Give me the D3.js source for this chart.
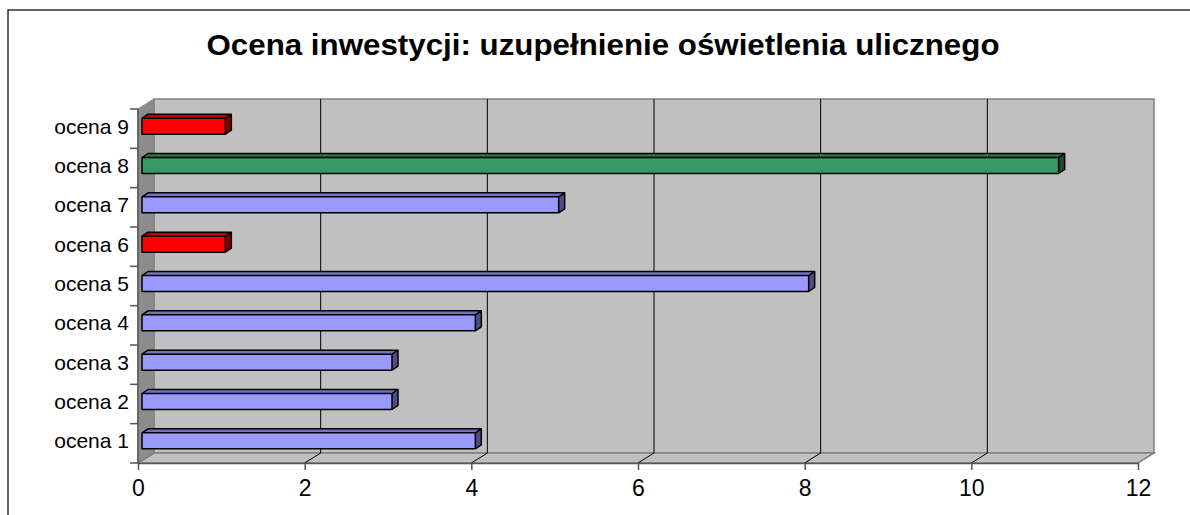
<!DOCTYPE html>
<html>
<head>
<meta charset="utf-8">
<script src="https://cdn.jsdelivr.net/npm/d3@7"></script>
<style>
  body { margin: 0; background: #fff; }
  svg { display: block; font-family: "Liberation Sans", Arial, sans-serif; }
</style>
</head>
<body>
<svg id="chart" width="1190" height="515"></svg>
<script>
// data
let categories = ["ocena 1", "ocena 2", "ocena 3", "ocena 4", "ocena 5", "ocena 6", "ocena 7", "ocena 8", "ocena 9"];
let values = [4, 3, 3, 4, 8, 1, 5, 11, 1];
let barColors = ["blue", "blue", "blue", "blue", "blue", "red", "blue", "green", "red"];
let xTicks = [0, 2, 4, 6, 8, 10, 12];
let title = "Ocena inwestycji: uzupełnienie oświetlenia ulicznego";

// shades: front, top, side
let palette = {
  blue: ["#9999ff", "#7373bf", "#4d4d80"],
  red: ["#ff0000", "#bf0000", "#800000"],
  green: ["#339966", "#267350", "#1a4d33"],
};

let svg = d3.select("#chart");

// plot geometry (front plane) and 3d depth of the walls
let plotL = 138, plotR = 1138, plotT = 109, plotB = 463;
let depthX = 16, depthY = -10;

let x = d3.scaleLinear().domain([0, 12]).range([plotL, plotR]);
let y = d3
  .scaleBand()
  .domain(categories.slice().reverse())
  .range([plotT, plotB]);

// outer frame (cropped at right/bottom)
svg.append("path")
  .attr("d", "M8,515 L8,10 L1190,10")
  .attr("fill", "none")
  .attr("stroke", "#333")
  .attr("stroke-width", 1.5);

// title
svg.append("text")
  .attr("x", 603)
  .attr("y", 55)
  .attr("text-anchor", "middle")
  .attr("font-size", "30px")
  .attr("font-weight", "bold")
  .attr("textLength", 793)
  .attr("lengthAdjust", "spacingAndGlyphs")
  .text(title);

// back wall
svg.append("rect")
  .attr("x", plotL + depthX)
  .attr("y", plotT + depthY)
  .attr("width", plotR - plotL)
  .attr("height", plotB - plotT)
  .attr("fill", "#c0c0c0")
  .attr("stroke", "#808080")
  .attr("stroke-width", 1.5);

// side wall
svg.append("path")
  .attr("d", `M${plotL},${plotT} L${plotL + depthX},${plotT + depthY} L${plotL + depthX},${plotB + depthY} L${plotL},${plotB} Z`)
  .attr("fill", "#8c8c8c")
  .attr("stroke", "#808080");

// floor
svg.append("path")
  .attr("d", `M${plotL},${plotB} L${plotL + depthX},${plotB + depthY} L${plotR + depthX},${plotB + depthY} L${plotR},${plotB} Z`)
  .attr("fill", "#c0c0c0")
  .attr("stroke", "#808080")
  .attr("stroke-width", 1.5);

// gridlines on back wall + floor
let inner = xTicks.filter((d) => d > 0 && d < 12);
svg.selectAll(".grid")
  .data(inner)
  .enter()
  .append("path")
  .attr("class", "grid")
  .attr("d", (d) => `M${x(d)},${plotB} L${x(d) + depthX},${plotB + depthY} L${x(d) + depthX},${plotT + depthY}`)
  .attr("fill", "none")
  .attr("stroke", "#000")
  .attr("stroke-width", 1);

// bars
let offX = 4, offY = -2.5, barH = 16, bdx = 6, bdy = -4;
let bars = svg.selectAll(".bar")
  .data(categories.map((c, i) => ({ cat: c, val: values[i], col: palette[barColors[i]] })))
  .enter()
  .append("g")
  .attr("class", "bar");

bars.each(function (d) {
  let g = d3.select(this);
  let x0 = x(0) + offX, x1 = x(d.val) + offX;
  let y0 = y(d.cat) + y.bandwidth() / 2 + offY - barH / 2, y1 = y0 + barH;
  g.append("path")
    .attr("d", `M${x0},${y0} L${x0 + bdx},${y0 + bdy} L${x1 + bdx},${y0 + bdy} L${x1},${y0} Z`)
    .attr("fill", d.col[1]);
  g.append("path")
    .attr("d", `M${x1},${y0} L${x1 + bdx},${y0 + bdy} L${x1 + bdx},${y1 + bdy} L${x1},${y1} Z`)
    .attr("fill", d.col[2]);
  g.append("rect")
    .attr("x", x0)
    .attr("y", y0)
    .attr("width", x1 - x0)
    .attr("height", barH)
    .attr("fill", d.col[0]);
  g.append("path")
    .attr("d", `M${x0},${y1} L${x0},${y0} L${x0 + bdx},${y0 + bdy} L${x1 + bdx},${y0 + bdy} L${x1 + bdx},${y1 + bdy} L${x1},${y1} Z M${x0},${y0} L${x1},${y0} L${x1},${y1} M${x1},${y0} L${x1 + bdx},${y0 + bdy}`)
    .attr("fill", "none")
    .attr("stroke", "#000")
    .attr("stroke-width", 1.5)
    .attr("stroke-linejoin", "round");
});

// left axis
let yAxis = svg.append("g");
yAxis.append("line")
  .attr("x1", plotL).attr("x2", plotL)
  .attr("y1", plotT).attr("y2", plotB)
  .attr("stroke", "#555").attr("stroke-width", 1.5);
let bounds = categories.map((c) => y(c)).concat([plotB]);
yAxis.selectAll(".tk")
  .data(bounds)
  .enter()
  .append("line")
  .attr("x1", plotL - 8).attr("x2", plotL)
  .attr("y1", (d) => d).attr("y2", (d) => d)
  .attr("stroke", "#555").attr("stroke-width", 1.5);
yAxis.selectAll(".lbl")
  .data(categories)
  .enter()
  .append("text")
  .attr("x", 129)
  .attr("y", (d) => y(d) + y.bandwidth() / 2 + offY)
  .attr("dy", "0.35em")
  .attr("text-anchor", "end")
  .attr("font-size", "21px")
  .text((d) => d);

// bottom axis
let xAxis = svg.append("g")
  .attr("transform", `translate(0,${plotB})`)
  .call(d3.axisBottom(x).tickValues(xTicks).tickSize(7).tickSizeOuter(0).tickPadding(10));
xAxis.select(".domain").attr("stroke", "#555").attr("stroke-width", 1.5);
xAxis.selectAll(".tick line").attr("stroke", "#555").attr("stroke-width", 1.5);
xAxis.selectAll(".tick text")
  .attr("font-size", "23px")
  .attr("font-family", "Liberation Sans, Arial, sans-serif")
  .attr("fill", "#000");
</script>
</body>
</html>
